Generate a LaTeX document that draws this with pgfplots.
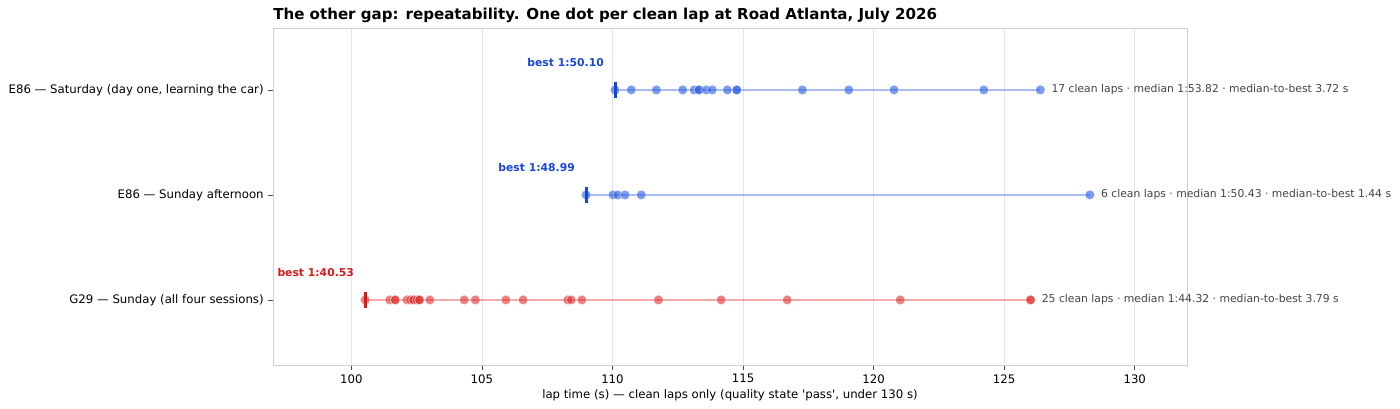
\documentclass[border=0pt]{standalone}
\usepackage{fontspec}
\setmainfont{DejaVu Sans}
\usepackage{pgfplots}
\pgfplotsset{compat=1.18}

\definecolor{dotblue}{HTML}{2F5FE3}
\definecolor{bestblue}{HTML}{1A46D6}
\definecolor{dotred}{HTML}{E03535}
\definecolor{bestred}{HTML}{D91A1A}
\definecolor{gridgray}{HTML}{E6E6E6}
\definecolor{framegray}{HTML}{CFCFCF}
\definecolor{notegray}{HTML}{444444}

\pgfplotsset{
  lapdots/.style={only marks, mark=*, mark size=3.6pt,
    mark options={fill=#1, draw=white, line width=0.4pt, opacity=0.62}},
  lapspan/.style={#1, opacity=0.42, line width=1.4pt},
  bestmark/.style={only marks, mark=|, mark size=5.8pt,
    mark options={draw=#1, line width=2.2pt}},
}

\begin{document}
\begin{tikzpicture}
\path[use as bounding box] (-204.75pt,-33pt) rectangle (845.25pt,273.75pt);
\begin{axis}[
  at={(0pt,0pt)}, anchor=south west, scale only axis,
  width=685.5pt, height=252.75pt,
  xmin=97, xmax=132, ymin=-0.62, ymax=2.59,
  xtick={100,105,...,130},
  ytick={0,1,2},
  yticklabels={{G29 — Sunday (all four sessions)}, {E86 — Sunday afternoon}, {E86 — Saturday (day one, learning the car)}},
  tick pos=left, tick align=outside,
  major tick length=3.5pt,
  tick style={black!70, line width=0.6pt},
  xmajorgrids, grid style={gridgray, line width=0.6pt},
  axis line style={framegray, line width=0.6pt},
  ticklabel style={font=\fontsize{8.8}{10}\selectfont},
  /pgf/number format/assume math mode=true,
  xlabel={lap time (s) — clean laps only (quality state \textquotesingle pass\textquotesingle, under 130 s)},
  xlabel style={font=\fontsize{8.8}{10}\selectfont, inner sep=0pt, yshift=-1.5pt},
  title={The other gap: repeatability. One dot per clean lap at Road Atlanta, July 2026},
  title style={at={(0,1)}, anchor=base west, inner sep=0pt, yshift=0.5pt,
    font=\bfseries\fontsize{11.3}{13}\selectfont},
  clip=false,
]
% E86 Saturday
\addplot[lapspan=dotblue] coordinates {(110.10,2) (126.38,2)};
\addplot[lapdots=dotblue] coordinates {
(110.10,2) (110.72,2) (111.68,2) (112.69,2) (113.13,2) (113.31,2) (113.31,2)
(113.59,2) (113.82,2) (114.40,2) (114.76,2) (114.76,2) (117.27,2) (119.05,2)
(120.78,2) (124.22,2) (126.38,2)
};
\addplot[bestmark=bestblue] coordinates {(110.10,2)};

% E86 Sunday afternoon
\addplot[lapspan=dotblue] coordinates {(108.99,1) (128.28,1)};
\addplot[lapdots=dotblue] coordinates {
(108.99,1) (110.02,1) (110.20,1) (110.48,1) (111.10,1) (128.28,1)
};
\addplot[bestmark=bestblue] coordinates {(108.99,1)};

% G29 Sunday
\addplot[lapspan=dotred] coordinates {(100.53,0) (126.01,0)};
\addplot[lapdots=dotred] coordinates {
(100.53,0) (101.47,0) (101.68,0) (101.68,0) (102.13,0) (102.26,0) (102.38,0)
(102.38,0) (102.51,0) (102.61,0) (102.61,0) (103.01,0) (104.32,0) (104.75,0)
(105.92,0) (106.58,0) (108.29,0) (108.42,0) (108.83,0) (111.76,0) (114.16,0)
(116.69,0) (121.02,0) (126.01,0) (126.01,0)
};
\addplot[bestmark=bestred] coordinates {(100.53,0)};

\begin{scope}[every node/.style={inner sep=0pt, font=\fontsize{8.1}{9.5}\selectfont}]
\node[anchor=west, text=notegray, xshift=8.25pt] at (axis cs:126.38,2) {17 clean laps · median 1:53.82 · median-to-best 3.72 s};
\node[anchor=west, text=notegray, xshift=8.25pt] at (axis cs:128.28,1) {6 clean laps · median 1:50.43 · median-to-best 1.44 s};
\node[anchor=west, text=notegray, xshift=8.25pt] at (axis cs:126.01,0) {25 clean laps · median 1:44.32 · median-to-best 3.79 s};
\node[anchor=east, text=bestblue, xshift=-8.25pt, yshift=20.25pt, font=\bfseries\fontsize{8.1}{9.5}\selectfont] at (axis cs:110.10,2) {best 1:50.10};
\node[anchor=east, text=bestblue, xshift=-8.25pt, yshift=20.25pt, font=\bfseries\fontsize{8.1}{9.5}\selectfont] at (axis cs:108.99,1) {best 1:48.99};
\node[anchor=east, text=bestred, xshift=-8.25pt, yshift=20.25pt, font=\bfseries\fontsize{8.1}{9.5}\selectfont] at (axis cs:100.53,0) {best 1:40.53};
\end{scope}
\end{axis}
\end{tikzpicture}
\end{document}
